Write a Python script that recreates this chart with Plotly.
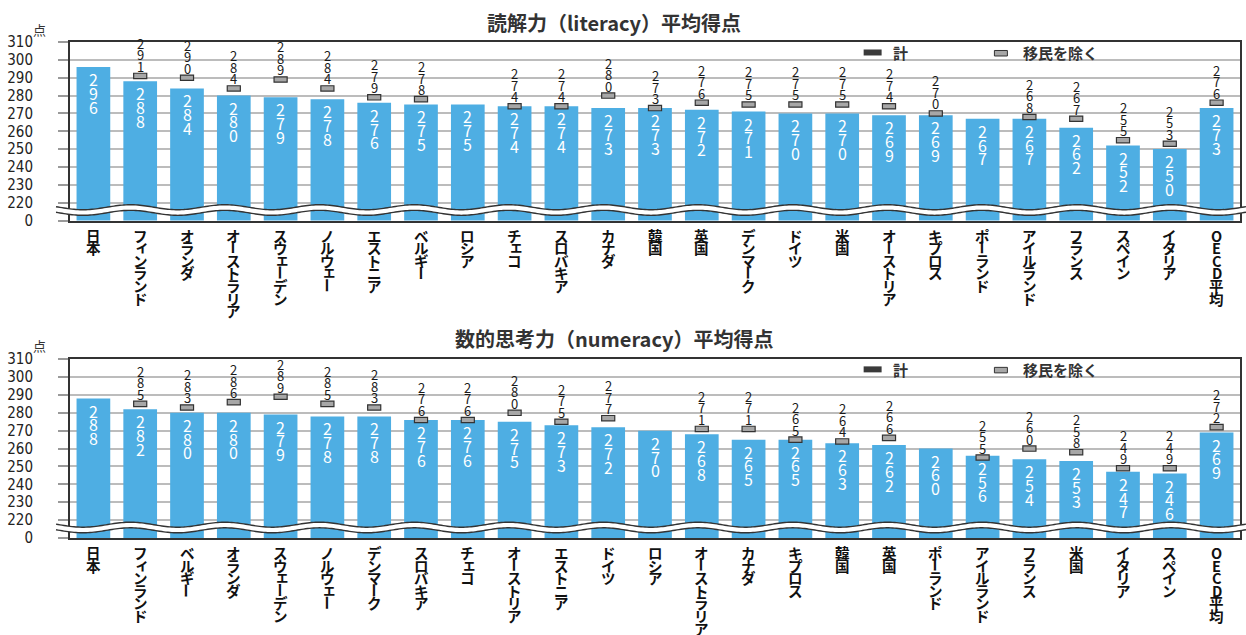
import math
import plotly.graph_objects as go

# ---- data -------------------------------------------------------------
lit_countries = ["日本", "フィンランド", "オランダ", "オーストラリア", "スウェーデン", "ノルウェー",
                 "エストニア", "ベルギー", "ロシア", "チェコ", "スロバキア", "カナダ", "韓国", "英国",
                 "デンマーク", "ドイツ", "米国", "オーストリア", "キプロス", "ポーランド",
                 "アイルランド", "フランス", "スペイン", "イタリア", "OECD平均"]
lit_total = [296, 288, 284, 280, 279, 278, 276, 275, 275, 274, 274, 273, 273, 272,
             271, 270, 270, 269, 269, 267, 267, 262, 252, 250, 273]
lit_native = [None, 291, 290, 284, 289, 284, 279, 278, None, 274, 274, 280, 273, 276,
              275, 275, 275, 274, 270, None, 268, 267, 255, 253, 276]

num_countries = ["日本", "フィンランド", "ベルギー", "オランダ", "スウェーデン", "ノルウェー",
                 "デンマーク", "スロバキア", "チェコ", "オーストリア", "エストニア", "ドイツ", "ロシア",
                 "オーストラリア", "カナダ", "キプロス", "韓国", "英国", "ポーランド",
                 "アイルランド", "フランス", "米国", "イタリア", "スペイン", "OECD平均"]
num_total = [288, 282, 280, 280, 279, 278, 278, 276, 276, 275, 273, 272, 270,
             268, 265, 265, 263, 262, 260, 256, 254, 253, 247, 246, 269]
num_native = [None, 285, 283, 286, 289, 285, 283, 276, 276, 280, 275, 277, None,
              271, 271, 265, 264, 266, None, 255, 260, 258, 249, 249, 272]

titles = ["読解力（literacy）平均得点", "数的思考力（numeracy）平均得点"]
y_ticks = [210, 220, 230, 240, 250, 260, 270, 280, 290, 300, 310]
y_tick_text = ["0", "220", "230", "240", "250", "260", "270", "280", "290", "300", "310"]
legend_labels = ["計", "移民を除く"]
unit_label = "点"

# ---- styling / geometry ----------------------------------------------
W, H = 1246, 635
ML, MR, MT, MB = 70, 4, 42, 96.5
PW = W - ML - MR
PH = H - MT - MB
BLUE = "#4eaee3"
GREY = "#a7a7a7"
DARK = "#333333"
GRID = "#bcbcbc"
JP = "Noto Sans CJK JP"

panels = [(42.3, 220.7), (359.5, 538.5)]   # (top px, bottom px)


def px_x(px):
    return (px - ML) / PW


def px_y(py):
    return (H - MB - py) / PH


fig = go.Figure()
shapes = []
annotations = []

datasets = [(lit_countries, lit_total, lit_native), (num_countries, num_total, num_native)]
small_kana = set("ァィゥェォッャュョ")

for p, (cats, total, native) in enumerate(datasets):
    xa = "x" if p == 0 else "x2"
    ya = "y" if p == 0 else "y2"
    top_px, bot_px = panels[p]
    dy = top_px - panels[0][0]

    # totals
    fig.add_trace(go.Bar(x=cats, y=total, width=0.72, marker=dict(color=BLUE, line=dict(width=0)),
                         xaxis=xa, yaxis=ya, hoverinfo="x+y"))
    # excluding immigrants: small grey tabs centred on the value
    nx = [c for c, v in zip(cats, native) if v is not None]
    nv = [v for v in native if v is not None]
    fig.add_trace(go.Bar(x=nx, y=[3.0] * len(nv), base=[v - 1.5 for v in nv], width=0.28,
                         marker=dict(color=GREY, line=dict(color=DARK, width=1.2)),
                         xaxis=xa, yaxis=ya, hoverinfo="skip"))

    # vertical digit labels inside the bars
    for c, v in zip(cats, total):
        for k, d in enumerate(str(v)):
            annotations.append(dict(x=c, y=v, xref=xa, yref=ya, text=d, showarrow=False,
                                    yanchor="middle", yshift=-(12 + 13.8 * k),
                                    font=dict(family=JP, size=16, color="white")))
    # vertical digit labels above the grey tabs
    for c, v in zip(nx, nv):
        s = str(v)
        for k, d in enumerate(s):
            annotations.append(dict(x=c, y=v, xref=xa, yref=ya, text=d, showarrow=False,
                                    yanchor="middle", yshift=9.5 + 11.5 * (len(s) - 1 - k),
                                    font=dict(family=JP, size=13, color="#1a1a1a")))

    # vertically written category labels
    for c in cats:
        for k, ch in enumerate(c):
            a = dict(x=c, y=px_y(bot_px), xref=xa, yref="paper", text=ch, showarrow=False,
                     yanchor="middle", yshift=-(14.5 + 12.6 * k),
                     font=dict(family=JP, size=14.5, color="#111111", weight="bold"))
            if ch == "ー":
                a["textangle"] = 90
            if ch in small_kana:
                a["xshift"] = 2
                a["yshift"] += 2
            annotations.append(a)

    # title and unit
    annotations.append(dict(x=px_x(615), y=px_y(22 + dy), xref="paper", yref="paper",
                            text=titles[p], showarrow=False, xanchor="center", yanchor="middle",
                            font=dict(family=JP, size=20, color=DARK, weight="bold")))
    annotations.append(dict(x=px_x(39), y=px_y(29 + dy), xref="paper", yref="paper",
                            text=unit_label, showarrow=False, xanchor="center", yanchor="middle",
                            font=dict(family=JP, size=13, color=DARK)))

    # legend
    shapes.append(dict(type="rect", xref="paper", yref="paper",
                       x0=px_x(865), x1=px_x(883), y0=px_y(55.5 + dy), y1=px_y(49.5 + dy),
                       fillcolor="#3a3a3a", line=dict(width=0)))
    annotations.append(dict(x=px_x(902), y=px_y(52.5 + dy), xref="paper", yref="paper",
                            text=legend_labels[0], showarrow=False, xanchor="center",
                            yanchor="middle",
                            font=dict(family=JP, size=15, color=DARK, weight="bold")))
    shapes.append(dict(type="rect", xref="paper", yref="paper",
                       x0=px_x(996), x1=px_x(1009), y0=px_y(56 + dy), y1=px_y(50.5 + dy),
                       fillcolor=GREY, line=dict(color=DARK, width=1)))
    annotations.append(dict(x=px_x(1023), y=px_y(52.5 + dy), xref="paper", yref="paper",
                            text=legend_labels[1], showarrow=False, xanchor="left",
                            yanchor="middle",
                            font=dict(family=JP, size=15, color=DARK, weight="bold")))

    # axis-break wave
    cy = bot_px - 10.5

    def wave(off):
        pts = []
        x = 56.0
        while x <= W + 2:
            py = cy + off + 2.5 * math.cos(2 * math.pi * (x - 83) / 94.8)
            pts.append((px_x(x), px_y(py)))
            x += 2.0
        return pts

    upper = wave(-2.8)
    lower = wave(2.8)
    fill = "M " + " L ".join(f"{a:.5f},{b:.5f}" for a, b in upper)
    fill += " L " + " L ".join(f"{a:.5f},{b:.5f}" for a, b in reversed(lower)) + " Z"
    shapes.append(dict(type="path", xref="paper", yref="paper", path=fill,
                       fillcolor="white", line=dict(width=0), layer="above"))
    for pts in (upper, lower):
        path = "M " + " L ".join(f"{a:.5f},{b:.5f}" for a, b in pts)
        shapes.append(dict(type="path", xref="paper", yref="paper", path=path,
                           line=dict(color=DARK, width=1.4), layer="above"))

top_dom = [px_y(panels[0][1]), 1.0]
bot_dom = [0.0, px_y(panels[1][0])]

xaxis_common = dict(type="category", range=[-0.5, 24.5], showticklabels=False, ticks="",
                    showgrid=False, showline=True, mirror=True, linecolor=DARK, linewidth=2,
                    zeroline=False, fixedrange=True)
yaxis_common = dict(range=[210, 310], tickmode="array", tickvals=y_ticks, ticktext=y_tick_text,
                    showgrid=True, gridcolor=GRID, gridwidth=1.6, ticks="outside", ticklen=10,
                    tickcolor="#9a9a9a", tickwidth=1.6, showline=True, mirror=True,
                    linecolor=DARK, linewidth=2, zeroline=False, ticklabelstandoff=22,
                    tickfont=dict(family="DejaVu Sans Condensed, Liberation Sans Narrow, Noto Sans",
                                  size=15, color="#222222"),
                    fixedrange=True)

fig.update_layout(
    width=W, height=H,
    margin=dict(l=ML, r=MR, t=MT, b=MB, pad=0),
    paper_bgcolor="white", plot_bgcolor="white",
    barmode="overlay", showlegend=False,
    xaxis=dict(domain=[0, 1], anchor="y", **xaxis_common),
    yaxis=dict(domain=top_dom, anchor="x", **yaxis_common),
    xaxis2=dict(domain=[0, 1], anchor="y2", **xaxis_common),
    yaxis2=dict(domain=bot_dom, anchor="x2", **yaxis_common),
    shapes=shapes,
    annotations=annotations,
    font=dict(family=JP),
)

fig.write_html("out.html", config={"displayModeBar": False})
